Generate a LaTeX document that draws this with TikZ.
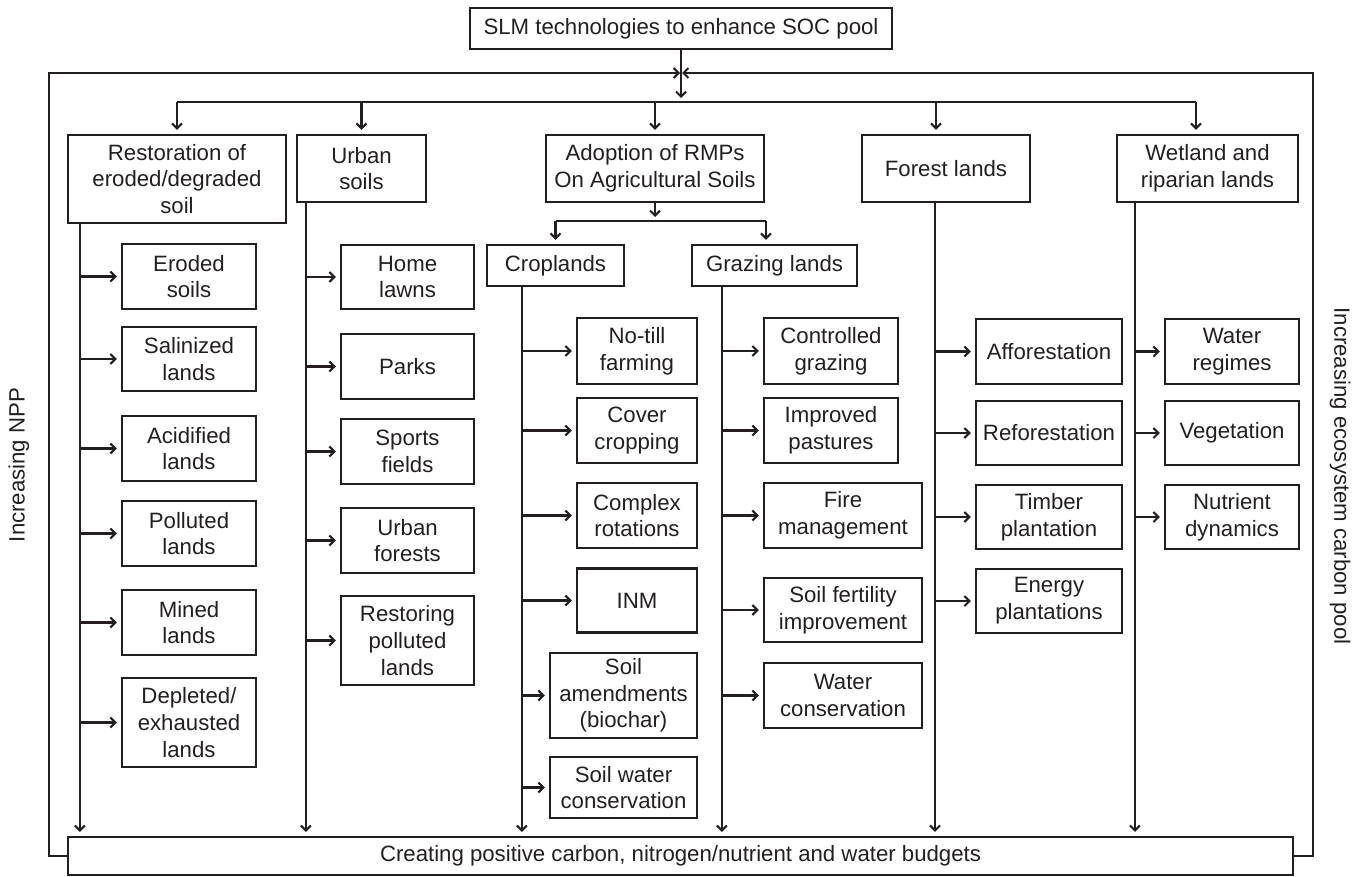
\documentclass[tikz,border=0pt]{standalone}
\usepackage{fontspec}
\setmainfont{Liberation Sans}
\usepackage{tikz}
\usepackage{xcolor}
\usetikzlibrary{positioning, arrows, arrows.meta}

\definecolor{ink}{RGB}{35,31,32}
\tikzset{
    box/.style={draw=ink, text=ink, line width=2.1pt, align=center, inner sep=0pt, font=\fontsize{22.2}{26.7}\selectfont},
    link/.style={draw=ink, line width=2.1pt},
    tip/.style={link, -{Straight Barb[length=5pt, width=10pt]}, shorten >=4pt},
    side/.style={text=ink, font=\fontsize{22.2}{26.7}\selectfont}
}

\begin{document}
\begin{tikzpicture}[x=1pt, y=-1pt]
    \useasboundingbox (0,0) rectangle (1363,876);

    \node[box, minimum width=422, minimum height=41] (top) at (681, 28.5) {SLM technologies to enhance SOC pool};
    \node[box, minimum width=1225, minimum height=38] (bot) at (680.5, 856) {Creating positive carbon, nitrogen/nutrient and water budgets};

    \node[box, minimum width=218, minimum height=88] (rest) at (177, 179) {Restoration of\\eroded/degraded\\soil};
    \node[box, minimum width=129, minimum height=67] (urb) at (361.5, 168.5) {Urban\\soils};
    \node[box, minimum width=218, minimum height=67] (agr) at (655, 168.5) {Adoption of RMPs\\On Agricultural Soils};
    \node[box, minimum width=168, minimum height=67] (for) at (946, 168.5) {Forest lands};
    \node[box, minimum width=181, minimum height=67] (wet) at (1207.5, 168.5) {Wetland and\\riparian lands};

    \node[box, minimum width=137, minimum height=41] (crop) at (555.5, 265.5) {Croplands};
    \node[box, minimum width=165, minimum height=41] (graz) at (774.5, 265.5) {Grazing lands};

    \node[box, minimum width=134, minimum height=65] (r1) at (189, 276.5) {Eroded\\soils};
    \node[box, minimum width=134, minimum height=64] (r2) at (189, 359) {Salinized\\lands};
    \node[box, minimum width=134, minimum height=65] (r3) at (189, 448.5) {Acidified\\lands};
    \node[box, minimum width=134, minimum height=65] (r4) at (189, 533.5) {Polluted\\lands};
    \node[box, minimum width=134, minimum height=65] (r5) at (189, 622.5) {Mined\\lands};
    \node[box, minimum width=134, minimum height=89] (r6) at (189, 722.5) {Depleted/\\exhausted\\lands};

    \node[box, minimum width=133, minimum height=64] (u1) at (407.5, 277) {Home\\lawns};
    \node[box, minimum width=133, minimum height=65] (u2) at (407.5, 366.5) {Parks};
    \node[box, minimum width=133, minimum height=65] (u3) at (407.5, 451.5) {Sports\\fields};
    \node[box, minimum width=133, minimum height=65] (u4) at (407.5, 540.5) {Urban\\forests};
    \node[box, minimum width=133, minimum height=89] (u5) at (407.5, 640.5) {Restoring\\polluted\\lands};

    \node[box, minimum width=120, minimum height=66] (c1) at (637, 351) {No-till\\farming};
    \node[box, minimum width=120, minimum height=65] (c2) at (637, 430.5) {Cover\\cropping};
    \node[box, minimum width=120, minimum height=65] (c3) at (637, 515.5) {Complex\\rotations};
    \node[box, minimum width=120, minimum height=64] (c4) at (637, 600.5) {INM};
    \node[box, minimum width=147, minimum height=85] (c5) at (623.5, 695.5) {Soil\\amendments\\(biochar)};
    \node[box, minimum width=147, minimum height=61] (c6) at (623.5, 787.5) {Soil water\\conservation};

    \node[box, minimum width=134, minimum height=66] (g1) at (831, 351) {Controlled\\grazing};
    \node[box, minimum width=134, minimum height=65] (g2) at (831, 430.5) {Improved\\pastures};
    \node[box, minimum width=158, minimum height=65] (g3) at (843, 515.5) {Fire\\management};
    \node[box, minimum width=158, minimum height=64] (g4) at (843, 610) {Soil fertility\\improvement};
    \node[box, minimum width=158, minimum height=65] (g5) at (843, 695.5) {Water\\conservation};

    \node[box, minimum width=146, minimum height=65] (f1) at (1049, 351.5) {Afforestation};
    \node[box, minimum width=146, minimum height=64] (f2) at (1049, 433) {Reforestation};
    \node[box, minimum width=146, minimum height=64] (f3) at (1049, 517) {Timber\\plantation};
    \node[box, minimum width=146, minimum height=64] (f4) at (1049, 601) {Energy\\plantations};

    \node[box, minimum width=134, minimum height=65] (w1) at (1232, 351.5) {Water\\regimes};
    \node[box, minimum width=134, minimum height=64] (w2) at (1232, 433) {Vegetation};
    \node[box, minimum width=134, minimum height=64] (w3) at (1232, 517) {Nutrient\\dynamics};

    \node[side, rotate=90] (npp) at (19, 465) {Increasing NPP};
    \node[side, rotate=-90] (pool) at (1340, 476) {Increasing ecosystem carbon pool};

    % split points and buses
    \coordinate (fb) at (681, 73);
    \coordinate (split) at (681, 102);
    \coordinate (sub) at (655, 221);
    \coordinate (fx) at ([xshift=-10pt]for.north);
    \coordinate (wx) at ([xshift=-11.5pt]wet.north);
    \coordinate (gx) at ([xshift=-8.5pt]graz.north);
    \coordinate (rb) at ([xshift=13pt]rest.south west);
    \coordinate (ub) at ([xshift=10pt]urb.south west);
    \coordinate (cb) at ([xshift=36pt]crop.south west);
    \coordinate (gb) at ([xshift=31pt]graz.south west);
    \coordinate (fb2) at ([xshift=-11pt]for.south);
    \coordinate (wb) at ([xshift=19pt]wet.south west);

    % feedback frame
    \draw[tip, shorten >=0pt] (bot.west) -- ++(-18,0) |- ([xshift=-1pt]fb);
    \draw[tip, shorten >=0pt] (bot.east) -- ++(19,0) |- ([xshift=1pt]fb);

    % top level
    \draw[tip] (top.south) -- (split);
    \draw[link] (split -| rest.north) -- (split -| wx);
    \draw[tip] (split -| rest.north) -- (rest.north);
    \draw[tip] (split -| urb.north) -- (urb.north);
    \draw[tip] (split -| agr.north) -- (agr.north);
    \draw[tip] (split -| fx) -- (fx);
    \draw[tip] (split -| wx) -- (wx);

    \draw[tip] (agr.south) -- (sub);
    \draw[link] (sub -| crop.north) -- (sub -| gx);
    \draw[tip] (sub -| crop.north) -- (crop.north);
    \draw[tip] (sub -| gx) -- (gx);

    % buses down to the budgets
    \draw[tip] (rb) -- (rb |- bot.north);
    \draw[tip] (ub) -- (ub |- bot.north);
    \draw[tip] (cb) -- (cb |- bot.north);
    \draw[tip] (gb) -- (gb |- bot.north);
    \draw[tip] (fb2) -- (fb2 |- bot.north);
    \draw[tip] (wb) -- (wb |- bot.north);

    \draw[tip] (rb |- r1.west) -- (r1.west);
    \draw[tip] (rb |- r2.west) -- (r2.west);
    \draw[tip] (rb |- r3.west) -- (r3.west);
    \draw[tip] (rb |- r4.west) -- (r4.west);
    \draw[tip] (rb |- r5.west) -- (r5.west);
    \draw[tip] (rb |- r6.west) -- (r6.west);

    \draw[tip] (ub |- u1.west) -- (u1.west);
    \draw[tip] (ub |- u2.west) -- (u2.west);
    \draw[tip] (ub |- u3.west) -- (u3.west);
    \draw[tip] (ub |- u4.west) -- (u4.west);
    \draw[tip] (ub |- u5.west) -- (u5.west);

    \draw[tip] (cb |- c1.west) -- (c1.west);
    \draw[tip] (cb |- c2.west) -- (c2.west);
    \draw[tip] (cb |- c3.west) -- (c3.west);
    \draw[tip] (cb |- c4.west) -- (c4.west);
    \draw[tip] (cb |- c5.west) -- (c5.west);
    \draw[tip] (cb |- c6.west) -- (c6.west);

    \draw[tip] (gb |- g1.west) -- (g1.west);
    \draw[tip] (gb |- g2.west) -- (g2.west);
    \draw[tip] (gb |- g3.west) -- (g3.west);
    \draw[tip] (gb |- g4.west) -- (g4.west);
    \draw[tip] (gb |- g5.west) -- (g5.west);

    \draw[tip] (fb2 |- f1.west) -- (f1.west);
    \draw[tip] (fb2 |- f2.west) -- (f2.west);
    \draw[tip] (fb2 |- f3.west) -- (f3.west);
    \draw[tip] (fb2 |- f4.west) -- (f4.west);

    \draw[tip] (wb |- w1.west) -- (w1.west);
    \draw[tip] (wb |- w2.west) -- (w2.west);
    \draw[tip] (wb |- w3.west) -- (w3.west);
\end{tikzpicture}
\end{document}
